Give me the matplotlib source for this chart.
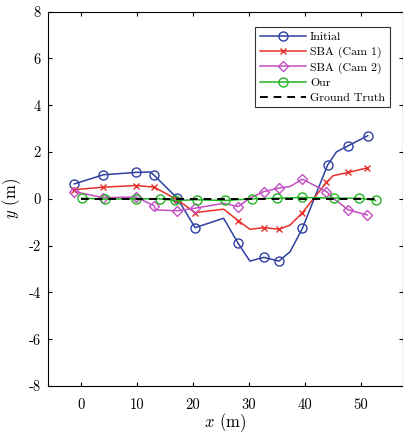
import matplotlib
matplotlib.use("Agg")
import matplotlib.pyplot as plt

plt.rcParams['font.family'] = 'serif'
plt.rcParams['font.serif'] = ['cmr10', 'DejaVu Serif']
plt.rcParams['mathtext.fontset'] = 'cm'
plt.rcParams['axes.unicode_minus'] = False
plt.rcParams['axes.formatter.use_mathtext'] = False

# Initial
init_x = [-1.2, 4.0, 9.8, 12.4, 13.1, 17.2, 20.4, 25.5, 28.1, 30.2, 32.7, 35.4, 37.4, 39.6, 44.1, 45.7, 47.8, 51.3]
init_y = [0.64, 1.03, 1.13, 1.15, 1.0, 0.03, -1.23, -0.83, -1.9, -2.66, -2.5, -2.66, -2.26, -1.26, 1.44, 2.01, 2.27, 2.7]
init_mk = [0, 1, 2, 4, 5, 6, 8, 10, 11, 13, 14, 16, 17]

# SBA (Cam 1)
sba1_x = [-1.2, 4.0, 9.8, 13.1, 17.2, 20.4, 25.5, 28.1, 30.2, 32.7, 35.4, 37.4, 39.6, 43.9, 45.1, 47.8, 51.2]
sba1_y = [0.39, 0.5, 0.57, 0.5, -0.04, -0.59, -0.44, -0.93, -1.3, -1.23, -1.3, -1.12, -0.59, 0.7, 0.99, 1.13, 1.32]
sba1_mk = [0, 1, 2, 3, 4, 5, 7, 9, 10, 12, 13, 15, 16]

# SBA (Cam 2)
sba2_x = [-1.2, 4.0, 9.8, 13.1, 13.3, 17.2, 20.4, 25.5, 28.1, 30.2, 32.7, 35.4, 37.4, 39.6, 43.9, 45.1, 47.8, 51.2]
sba2_y = [0.31, 0.05, 0.08, -0.3, -0.47, -0.51, -0.4, -0.19, -0.33, 0.03, 0.31, 0.46, 0.53, 0.84, 0.31, 0.03, -0.47, -0.69]
sba2_mk = [0, 1, 2, 3, 5, 6, 8, 10, 11, 13, 14, 16, 17]

# Our
our_x = [0.1, 4.2, 9.8, 14.1, 16.8, 20.7, 25.8, 30.6, 35.0, 39.5, 45.3, 49.7, 52.7]
our_y = [0.03, -0.01, 0.0, 0.0, -0.07, -0.04, -0.07, 0.0, 0.03, 0.06, 0.03, 0.03, -0.07]

# Ground truth
gt_x = [0.0, 53.0]
gt_y = [0.0, 0.0]

fig = plt.figure(figsize=(4.03, 4.33), dpi=100)
ax = fig.add_axes([0.118, 0.1085, 0.882, 0.8645])

ax.plot(init_x, init_y, color='#2f40a0', lw=1.1, marker='o', ms=6.5, mfc='none', mew=1.0,
        markevery=init_mk, label='Initial')
ax.plot(sba1_x, sba1_y, color='#e8302a', lw=1.1, marker='x', ms=5, mew=1.0,
        markevery=sba1_mk, label='SBA (Cam 1)')
ax.plot(sba2_x, sba2_y, color='#c24fc4', lw=1.1, marker='D', ms=5.3, mfc='none', mew=1.0,
        markevery=sba2_mk, label='SBA (Cam 2)')
ax.plot(our_x, our_y, color='#22b322', lw=1.1, marker='o', ms=6.5, mfc='none', mew=1.0,
        label='Our')
ax.plot(gt_x, gt_y, color='black', lw=1.4, ls=(0, (4, 3)), label='Ground Truth')

ax.set_xlim(-6, 57.6)
ax.set_ylim(-8, 8)
ax.set_xticks([0, 10, 20, 30, 40, 50])
ax.set_yticks([-8, -6, -4, -2, 0, 2, 4, 6, 8])
ax.tick_params(direction='in', top=True, right=True, length=3, labelsize=10.5)
ax.tick_params(axis='x', pad=9)
ax.tick_params(axis='y', pad=5)
ax.set_xlabel('$x$ (m)', fontsize=12, labelpad=-1)
ax.set_ylabel('$y$ (m)', fontsize=12, labelpad=4)

leg = ax.legend(loc='upper right', bbox_to_anchor=(0.963, 0.959), borderaxespad=0,
                fontsize=8.6, fancybox=False, framealpha=1, edgecolor='#333333',
                handlelength=3.9, handletextpad=0.3, labelspacing=0.35, borderpad=0.4)
leg.get_frame().set_linewidth(0.8)

fig.savefig('out.png', dpi=100)
